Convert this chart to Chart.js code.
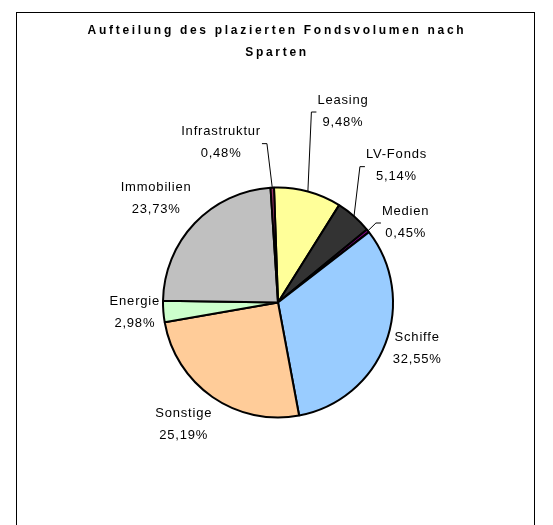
<!DOCTYPE html>
<html>
<head>
<meta charset="utf-8">
<script src="https://cdn.jsdelivr.net/npm/chart.js@4.4.1/dist/chart.umd.min.js"></script>
<style>
  body { margin: 0; background: #fff; }
  #wrap { position: relative; width: 553px; height: 525px; overflow: hidden; }
  #frame { position: absolute; left: 16px; top: 12px; width: 519px; height: 540px; border: 1px solid #000; box-sizing: border-box; }
  #chartBox { position: absolute; left: 0; top: 0; width: 553px; height: 525px; }
</style>
</head>
<body>
<div id="wrap">
  <div id="frame"></div>
  <div id="chartBox"><canvas id="spartenChart"></canvas></div>
</div>
<script>
// data, clockwise from 12 o'clock
const sparten = ['Leasing', 'LV-Fonds', 'Medien', 'Schiffe', 'Sonstige', 'Energie', 'Immobilien', 'Infrastruktur'];
const anteile = [9.48, 5.14, 0.45, 32.55, 25.19, 2.98, 23.73, 0.48];
const titelZeilen = ['Aufteilung des plazierten Fondsvolumen nach', 'Sparten'];

const farben = ['#FFFF99', '#333333', '#800080', '#99CCFF', '#FFCC99', '#CCFFCC', '#C0C0C0', '#993366'];

function formatPct(v) {
  return v.toFixed(2).replace('.', ',') + '%';
}

// title drawn by hand because of the wide letter spacing
const titlePlugin = {
  id: 'titlePlugin',
  afterDraw(chart) {
    const ctx = chart.ctx;
    ctx.save();
    ctx.font = 'bold 12px "Liberation Sans", Arial, sans-serif';
    ctx.letterSpacing = '2.7px';
    ctx.fillStyle = '#000';
    ctx.textAlign = 'center';
    ctx.textBaseline = 'middle';
    ctx.fillText(titelZeilen[0], 277, 31);
    ctx.fillText(titelZeilen[1], 277, 53);
    ctx.restore();
  }
};

// labels next to the slices, some with leader lines
const sliceLabels = {
  id: 'sliceLabels',
  afterDatasetsDraw(chart, args, opts) {
    const ctx = chart.ctx;
    const meta = chart.getDatasetMeta(0);
    ctx.save();
    ctx.font = '13px "Liberation Sans", Arial, sans-serif';
    ctx.letterSpacing = '0.8px';
    ctx.fillStyle = '#000';
    ctx.strokeStyle = '#000';
    ctx.lineWidth = 1;
    ctx.textAlign = 'center';
    ctx.textBaseline = 'middle';
    meta.data.forEach(function (arc, i) {
      const p = arc.getProps(['x', 'y', 'startAngle', 'endAngle', 'outerRadius'], true);
      const off = opts.offsets[i];
      const lx = p.x + off[0] * p.outerRadius;
      const ly = p.y + off[1] * p.outerRadius;
      const line1 = sparten[i];
      const line2 = formatPct(anteile[i]);
      ctx.fillText(line1, lx, ly - 11);
      ctx.fillText(line2, lx, ly + 11);
      if (opts.leaders[i]) {
        const mid = (p.startAngle + p.endAngle) / 2;
        const ax = p.x + Math.cos(mid) * p.outerRadius;
        const ay = p.y + Math.sin(mid) * p.outerRadius;
        const w = Math.max(ctx.measureText(line1).width, ctx.measureText(line2).width);
        const side = ax < lx ? -1 : 1;
        const edge = lx + side * (w / 2 + 1);
        const elbow = edge + side * 5;
        ctx.beginPath();
        ctx.moveTo(edge, ly + 1);
        ctx.lineTo(elbow, ly + 1);
        ctx.lineTo(ax, ay);
        ctx.stroke();
      }
    });
    ctx.restore();
  }
};

const ctx = document.getElementById('spartenChart').getContext('2d');
const spartenChart = new Chart(ctx, {
  type: 'pie',
  data: {
    labels: sparten,
    datasets: [{
      data: anteile,
      backgroundColor: farben,
      borderColor: '#000',
      borderWidth: 2,
      radius: 115
    }]
  },
  options: {
    responsive: true,
    maintainAspectRatio: false,
    animation: false,
    rotation: -2,
    layout: {
      padding: { left: 100, right: 97, top: 187, bottom: 107 }
    },
    plugins: {
      legend: { display: false },
      tooltip: { enabled: false },
      title: { display: false },
      sliceLabels: {
        offsets: [
          [0.565, -1.665], [1.03, -1.19], [1.11, -0.70], [1.21, 0.40],
          [-0.82, 1.06], [-1.245, 0.09], [-1.06, -0.905], [-0.495, -1.39]
        ],
        leaders: [true, true, true, false, false, false, false, true]
      }
    }
  },
  plugins: [sliceLabels, titlePlugin]
});
</script>
</body>
</html>
